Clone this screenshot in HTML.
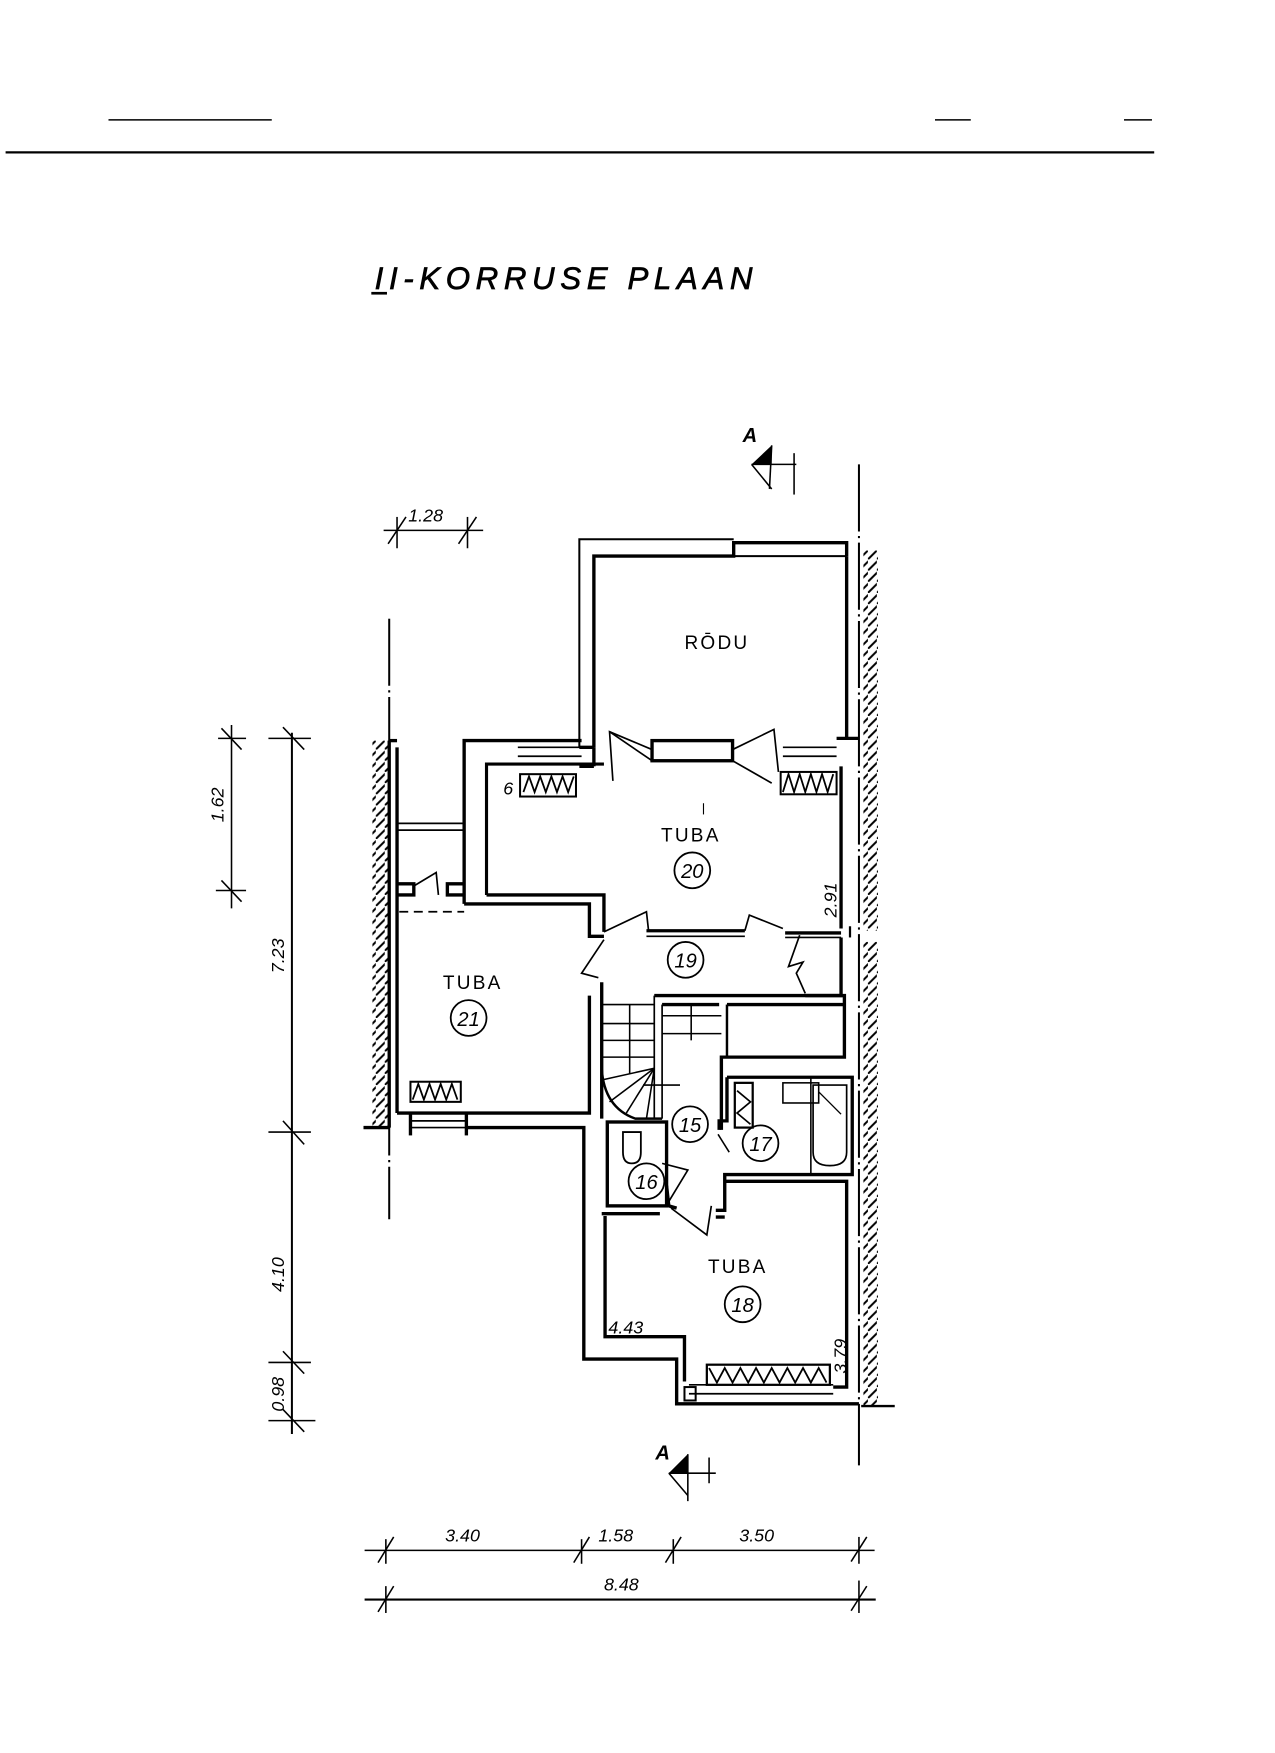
<!DOCTYPE html>
<html><head><meta charset="utf-8"><style>
html,body{margin:0;padding:0;background:#fff}
svg{display:block}
text{font-family:"Liberation Sans",sans-serif;fill:#000}
</style></head><body>
<svg width="1275" height="1753" viewBox="0 0 1140 1567" xmlns="http://www.w3.org/2000/svg">
<defs>
<pattern id="h" width="8" height="10" patternUnits="userSpaceOnUse">
<line x1="-2" y1="12" x2="14" y2="-4" stroke="#000" stroke-width="1.8"/>
</pattern>
</defs>
<g stroke="#000" fill="none" stroke-width="1.4">
<line x1="97" y1="107" x2="243" y2="107"/>
<line x1="836" y1="107" x2="868" y2="107"/>
<line x1="1005" y1="107" x2="1030" y2="107"/>
<line x1="5" y1="136" x2="1032" y2="136" stroke-width="2"/>
<line x1="332" y1="262" x2="346" y2="262" stroke-width="2.4"/>

<line x1="343" y1="474" x2="432" y2="474"/>
<line x1="355" y1="462" x2="355" y2="490"/><line x1="347" y1="486" x2="363" y2="462"/>
<line x1="418" y1="462" x2="418" y2="490"/><line x1="410" y1="486" x2="426" y2="462"/>

<line x1="207" y1="648" x2="207" y2="812"/>
<line x1="195" y1="660" x2="220" y2="660"/><line x1="198" y1="651" x2="216" y2="670"/>
<line x1="193" y1="796" x2="220" y2="796"/><line x1="198" y1="787" x2="216" y2="806"/>
<line x1="261" y1="655" x2="261" y2="1282" stroke-width="1.8"/>
<line x1="240" y1="660" x2="278" y2="660"/><line x1="253" y1="650" x2="272" y2="670"/>
<line x1="240" y1="1012" x2="278" y2="1012"/><line x1="253" y1="1002" x2="272" y2="1023"/>
<line x1="240" y1="1218" x2="278" y2="1218"/><line x1="253" y1="1208" x2="272" y2="1228"/>
<line x1="240" y1="1270" x2="282" y2="1270"/><line x1="253" y1="1260" x2="272" y2="1280"/>

<line x1="326" y1="1386" x2="782" y2="1386"/>
<line x1="345" y1="1376" x2="345" y2="1398"/><line x1="338" y1="1397" x2="352" y2="1374"/>
<line x1="520" y1="1376" x2="520" y2="1398"/><line x1="513" y1="1397" x2="527" y2="1374"/>
<line x1="602" y1="1376" x2="602" y2="1398"/><line x1="595" y1="1397" x2="609" y2="1374"/>
<line x1="768" y1="1374" x2="768" y2="1398"/><line x1="761" y1="1396" x2="775" y2="1374"/>
<line x1="326" y1="1430" x2="783" y2="1430" stroke-width="1.8"/>
<line x1="345" y1="1418" x2="345" y2="1442"/><line x1="338" y1="1441" x2="352" y2="1418"/>
<line x1="768" y1="1413" x2="768" y2="1442"/><line x1="761" y1="1440" x2="775" y2="1418"/>

<line x1="768" y1="415" x2="768" y2="1310" stroke-width="1.8" stroke-dasharray="60 4 2 4"/>
<line x1="348" y1="553" x2="348" y2="1090" stroke-width="1.8" stroke-dasharray="60 4 2 4"/>
<line x1="770" y1="1257" x2="800" y2="1257" stroke-width="2.2"/>

<line x1="672" y1="415" x2="712" y2="415"/>
<line x1="710" y1="405" x2="710" y2="442"/>
<line x1="672" y1="415" x2="690" y2="437"/>
<line x1="690" y1="398" x2="688" y2="437"/>
<line x1="598" y1="1317" x2="640" y2="1317"/>
<line x1="634" y1="1303" x2="634" y2="1326"/>
<line x1="598" y1="1317" x2="615" y2="1337"/>
<line x1="615" y1="1300" x2="615" y2="1342"/>
</g>
<polygon points="672,415 690,398 690,415" fill="#000"/>
<polygon points="598,1317 615,1300 615,1317" fill="#000"/>

<rect x="333" y="662" width="14" height="346" fill="url(#h)"/>
<rect x="772" y="492" width="13" height="340" fill="url(#h)"/>
<rect x="772" y="842" width="13" height="415" fill="url(#h)"/>

<g stroke="#000" fill="none" stroke-width="3" stroke-linejoin="miter">
<polyline points="518,668 518,482 656,482" stroke-width="1.8"/>
<polyline points="531,668 531,497 656,497 656,485 757,485 757,497" />
<line x1="757" y1="497" x2="757" y2="660"/>
<line x1="656" y1="497" x2="757" y2="497" stroke-width="1.8"/>
<line x1="518" y1="668" x2="531" y2="668"/>
<line x1="518" y1="685" x2="531" y2="685"/>
<line x1="531" y1="668" x2="531" y2="685"/>
<line x1="348" y1="662" x2="348" y2="1008"/>
<line x1="355" y1="668" x2="355" y2="995"/>
<line x1="348" y1="662" x2="355" y2="662"/>
<polyline points="415,808 415,662 520,662"/>
<polyline points="435,800 435,683 540,683" stroke-width="2.8"/>
<line x1="355" y1="736" x2="415" y2="736" stroke-width="1.6"/>
<line x1="355" y1="742" x2="415" y2="742" stroke-width="1.6"/>
<polyline points="355,790 370,790 370,800 355,800"/>
<polyline points="415,790 400,790 400,800 415,800"/>
<polyline points="370,792 390,780 392,800" stroke-width="1.5"/>
<line x1="357" y1="815" x2="415" y2="815" stroke-width="1.5" stroke-dasharray="8 5"/>
<polyline points="415,808 527,808 527,837 540,837"/>
<polyline points="435,800 540,800 540,833"/>
<line x1="463" y1="668" x2="520" y2="668" stroke-width="1.5"/>
<line x1="463" y1="676" x2="520" y2="676" stroke-width="1.5"/>
<line x1="700" y1="668" x2="748" y2="668" stroke-width="1.5"/>
<line x1="700" y1="676" x2="748" y2="676" stroke-width="1.5"/>
<rect x="583" y="662" width="72" height="18"/>
<polyline points="583,670 545,654 548,698" stroke-width="1.5"/>
<line x1="545" y1="654" x2="583" y2="680" stroke-width="1.5"/>
<polyline points="655,670 692,652 696,690" stroke-width="1.5"/>
<line x1="655" y1="680" x2="690" y2="700" stroke-width="1.5"/>
<line x1="748" y1="660" x2="768" y2="660" />
<line x1="752" y1="685" x2="752" y2="830"/>
<rect x="465" y="692" width="50" height="20" stroke-width="1.8"/>
<polyline points="468,708 473,694 478,708 483,694 488,708 493,694 498,708 503,694 508,708 513,694" stroke-width="1.6"/>
<rect x="698" y="690" width="50" height="20" stroke-width="1.8"/>
<polyline points="700,708 705,692 710,708 715,692 720,708 725,692 730,708 735,692 740,708 745,692" stroke-width="1.6"/>
<line x1="629" y1="718" x2="629" y2="728" stroke-width="1"/>
<polyline points="578,832 666,832" />
<line x1="578" y1="837" x2="666" y2="837" stroke-width="1.5"/>
<polyline points="702,834 752,834" />
<line x1="702" y1="838" x2="752" y2="838" stroke-width="1.5"/>
<polyline points="540,833 578,815 580,833" stroke-width="1.5"/>
<polyline points="540,840 520,870 535,874" stroke-width="1.5"/>
<polyline points="666,832 670,818 700,830" stroke-width="1.5"/>
<polyline points="715,836 705,864 718,860 712,870 720,888" stroke-width="1.5"/>
<polyline points="752,838 752,890 720,890" />
<line x1="760" y1="828" x2="760" y2="838" stroke-width="2"/>
<polyline points="538,878 538,1000" />
<polyline points="527,890 527,995 355,995" />
<line x1="367" y1="995" x2="367" y2="1015"/>
<line x1="417" y1="995" x2="417" y2="1015"/>
<line x1="367" y1="1002" x2="417" y2="1002" stroke-width="1.5"/>
<line x1="367" y1="1008" x2="417" y2="1008" stroke-width="1.5"/>
<rect x="367" y="967" width="45" height="18" stroke-width="1.8"/>
<polyline points="369,983 374,969 379,983 384,969 389,983 394,969 399,983 404,969 409,983" stroke-width="1.6"/>
<polyline points="325,1008 348,1008"/>
<polyline points="417,1008 522,1008 522,1215 605,1215 605,1255 768,1255"/>
<polyline points="585,890 755,890 755,945 645,945 645,1010"/>
<polyline points="592,898 643,898" />
<line x1="650" y1="898" x2="755" y2="898"/>
<line x1="650" y1="898" x2="650" y2="945" stroke-width="2.2"/>
<line x1="592" y1="898" x2="592" y2="1000" stroke-width="1.5"/>
<line x1="585" y1="890" x2="585" y2="1000" stroke-width="1.5"/>
<line x1="538" y1="898" x2="585" y2="898" stroke-width="1.5"/>
<line x1="538" y1="915" x2="585" y2="915" stroke-width="1.4"/>
<line x1="538" y1="930" x2="585" y2="930" stroke-width="1.4"/>
<line x1="538" y1="945" x2="585" y2="945" stroke-width="1.4"/>
<line x1="563" y1="898" x2="563" y2="960" stroke-width="1.4"/>
<line x1="592" y1="908" x2="645" y2="908" stroke-width="1.4"/>
<line x1="592" y1="924" x2="645" y2="924" stroke-width="1.4"/>
<line x1="618" y1="898" x2="618" y2="930" stroke-width="1.4"/>
<path d="M538,955 Q540,990 568,1000 L592,1000" stroke-width="2.2"/>
<line x1="585" y1="955" x2="545" y2="985" stroke-width="1.4"/>
<line x1="585" y1="955" x2="560" y2="995" stroke-width="1.4"/>
<line x1="585" y1="955" x2="578" y2="1000" stroke-width="1.4"/>
<line x1="585" y1="955" x2="540" y2="965" stroke-width="1.4"/>
<line x1="575" y1="970" x2="608" y2="970" stroke-width="1.4"/>
<rect x="543" y="1003" width="53" height="75"/>
<line x1="538" y1="1085" x2="590" y2="1085"/>
<path d="M557,1012 L573,1012 L573,1030 Q573,1040 565,1040 Q557,1040 557,1030 Z" stroke-width="1.6"/>
<polyline points="596,1060 598,1078 605,1080" />
<polyline points="598,1074 615,1046 592,1040" stroke-width="1.5"/>
<polyline points="600,1080 632,1104 636,1078" stroke-width="1.5"/>
<polyline points="650,963 762,963 762,1050 648,1050 648,1082 640,1082" />
<polyline points="650,963 650,1002 643,1002 643,1010"/>
<rect x="657" y="968" width="16" height="40" stroke-width="2"/>
<polyline points="659,975 671,985 659,995 671,1005" stroke-width="1.5"/>
<rect x="700" y="968" width="32" height="18" stroke-width="1.4"/>
<path d="M727,970 L757,970 L757,1030 Q757,1042 742,1042 Q727,1042 727,1030 Z" stroke-width="1.5"/>
<line x1="725" y1="963" x2="725" y2="1050" stroke-width="1.4"/>
<line x1="732" y1="976" x2="752" y2="996" stroke-width="1.2"/>
<line x1="642" y1="1014" x2="652" y2="1030" stroke-width="1.4"/>
<polyline points="541,1087 541,1195 612,1195 612,1235"/>
<polyline points="648,1056 757,1056 757,1240 745,1240"/>
<line x1="640" y1="1088" x2="648" y2="1088"/>
<line x1="616" y1="1238" x2="745" y2="1238" stroke-width="1.5"/>
<line x1="616" y1="1246" x2="745" y2="1246" stroke-width="1.5"/>
<rect x="612" y="1240" width="10" height="12" stroke-width="1.8"/>
<rect x="632" y="1220" width="110" height="18" stroke-width="2"/>
<polyline points="634,1223 641,1236 648,1223 655,1236 662,1223 669,1236 676,1223 683,1236 690,1223 697,1236 704,1223 711,1236 718,1223 725,1236 732,1223 739,1236" stroke-width="1.6"/>
</g>

<g stroke="#000" fill="none" stroke-width="1.6">
<circle cx="619" cy="778" r="16"/>
<circle cx="613" cy="858" r="16"/>
<circle cx="419" cy="910" r="16"/>
<circle cx="617" cy="1005" r="16"/>
<circle cx="680" cy="1022" r="16"/>
<circle cx="578" cy="1056" r="16"/>
<circle cx="664" cy="1166" r="16"/>
</g>
<g font-size="18" font-style="italic" text-anchor="middle">
<text x="619" y="785">20</text>
<text x="613" y="865">19</text>
<text x="419" y="917">21</text>
<text x="617" y="1012">15</text>
<text x="680" y="1029">17</text>
<text x="578" y="1063">16</text>
<text x="664" y="1173">18</text>
</g>
<g font-size="17" letter-spacing="2">
<text x="591" y="752">TUBA</text>
<text x="396" y="884">TUBA</text>
<text x="633" y="1138">TUBA</text>
<text x="612" y="580">RŌDU</text>
</g>
<text x="335" y="258" font-size="28" letter-spacing="5" font-style="italic" stroke="#000" stroke-width="0.6">II-KORRUSE  PLAAN</text>
<g font-size="16" font-style="italic">
<text x="365" y="466">1.28</text>
<text x="450" y="710">6</text>
<text x="544" y="1192">4.43</text>
<text x="398" y="1378">3.40</text>
<text x="535" y="1378">1.58</text>
<text x="661" y="1378">3.50</text>
<text x="540" y="1422">8.48</text>
<text x="664" y="395" font-weight="bold" font-size="18">A</text>
<text x="586" y="1305" font-weight="bold" font-size="18">A</text>
<text transform="translate(748,820) rotate(-90)">2.91</text>
<text transform="translate(757,1228) rotate(-90)">3.79</text>
<text transform="translate(200,735) rotate(-90)">1.62</text>
<text transform="translate(254,870) rotate(-90)">7.23</text>
<text transform="translate(254,1155) rotate(-90)">4.10</text>
<text transform="translate(254,1262) rotate(-90)">0.98</text>
</g>
</svg>
</body></html>
